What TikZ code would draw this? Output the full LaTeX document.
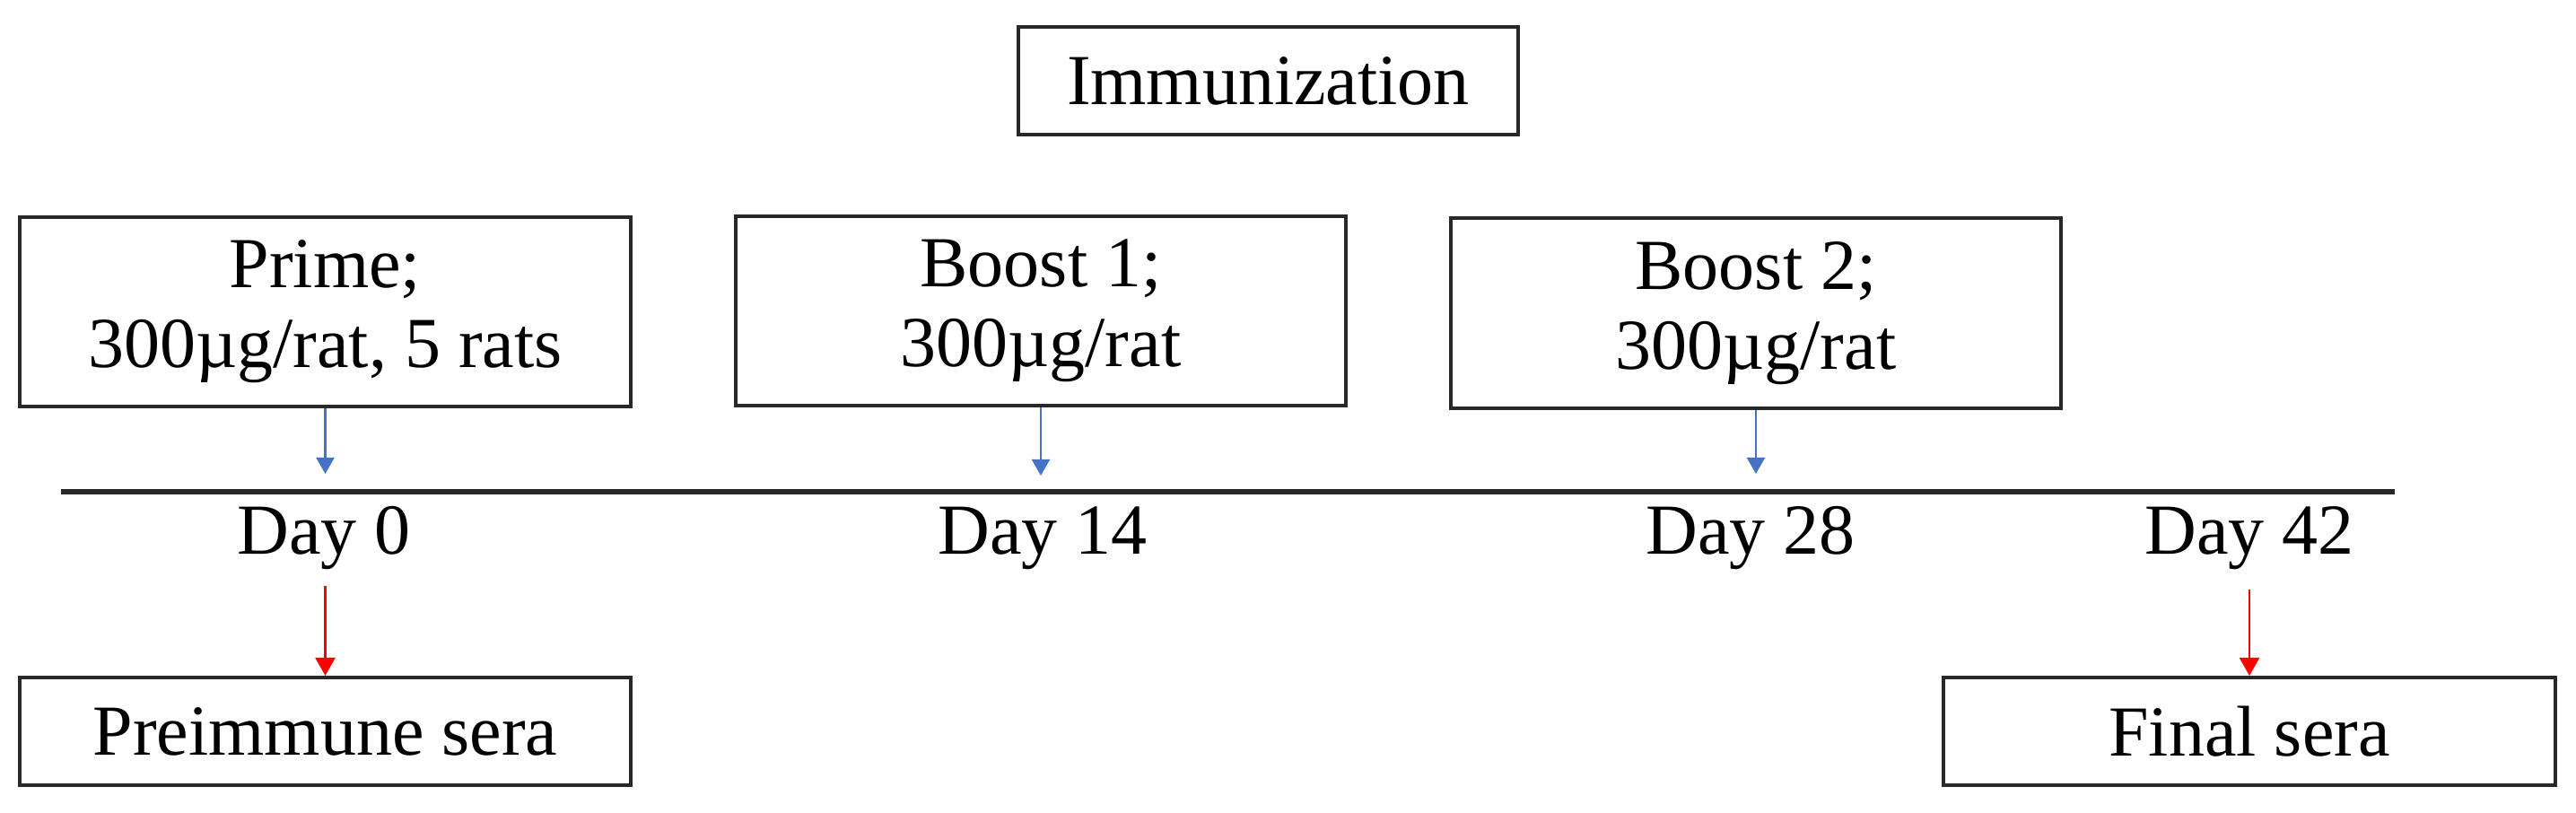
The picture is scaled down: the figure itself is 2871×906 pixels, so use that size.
\documentclass[tikz,border=0pt]{standalone}
\usepackage{fontspec}
\setmainfont{Liberation Serif}
\usetikzlibrary{arrows.meta}
\definecolor{arrowblue}{RGB}{68,114,196}
\definecolor{arrowred}{RGB}{255,0,0}
\definecolor{edgegray}{RGB}{40,40,40}
\begin{document}
\begin{tikzpicture}[x=0.25pt,y=-0.25pt,
  box/.style={draw=edgegray, line width=1pt, inner sep=0pt, align=center,
    font=\fontsize{20}{22.25}\selectfont},
  daylbl/.style={anchor=base, inner sep=0pt, font=\fontsize{20}{22.25}\selectfont},
  bluearrow/.style={draw=arrowblue, line width=0.55pt, -{Triangle[width=5pt,length=4.5pt]}},
  redarrow/.style={draw=arrowred, line width=0.55pt, -{Triangle[width=5.5pt,length=5pt]}},
  timeline/.style={draw=edgegray, line width=1.6pt}]
\useasboundingbox (0,0) rectangle (2871,906);
% boxes
\node[box, minimum width=139.25pt, minimum height=30pt] (imm) at (1413.5,90) {Immunization};
\node[box, minimum width=170.25pt, minimum height=52.75pt] (prime) at (362.5,347.5) {Prime;\\300µg/rat, 5 rats};
\node[box, minimum width=170pt, minimum height=52.75pt] (b1) at (1160,346.5) {Boost 1;\\300µg/rat};
\node[box, minimum width=170pt, minimum height=53pt] (b2) at (1957,349) {Boost 2;\\300µg/rat};
\node[box, minimum width=170.25pt, minimum height=30pt] (pre) at (362.5,815) {Preimmune sera};
\node[box, minimum width=170.5pt, minimum height=30pt] (fin) at (2507,815) {Final sera};
% timeline
\coordinate (tl) at (68,548);
\coordinate (tr) at (2669,548);
\draw[timeline] (tl) -- (tr);
% day labels
\node[daylbl] (d0) at (361,618) {Day 0};
\node[daylbl] (d14) at (1162,618) {Day 14};
\node[daylbl] (d28) at (1951,618) {Day 28};
\node[daylbl] (d42) at (2507,618) {Day 42};
% blue arrows
\coordinate (a0) at (362.5,528);
\coordinate (a14) at (1160,530);
\coordinate (a28) at (1957,528);
\draw[bluearrow] (prime.south) -- (a0);
\draw[bluearrow] (b1.south) -- (a14);
\draw[bluearrow] (b2.south) -- (a28);
% red arrows
\coordinate (r0) at (362.5,653);
\coordinate (r42) at (2507,657);
\draw[redarrow] (r0) -- (pre.north);
\draw[redarrow] (r42) -- (fin.north);
\end{tikzpicture}
\end{document}
